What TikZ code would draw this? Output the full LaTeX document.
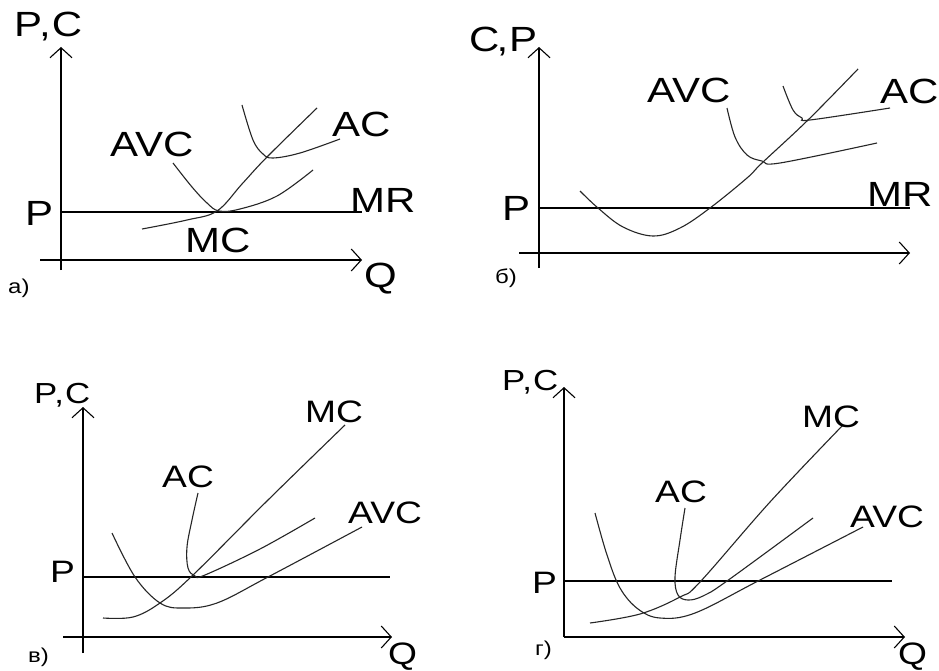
\documentclass[tikz,border=0pt]{standalone}
\usepackage{fontspec}
\newfontfamily\labf[FakeStretch=1.2]{Liberation Sans}
\usetikzlibrary{arrows.meta}
\begin{document}
\begin{tikzpicture}[x=1pt,y=-1pt,
  axis/.style={line width=1.4pt,-{Straight Barb[length=10pt,width=22pt,line width=1.1pt]}},
  hline/.style={line width=1.3pt},
  curve/.style={line width=1.1pt, black!85},
  big/.style={inner sep=0pt, anchor=base west, font=\labf\fontsize{35}{35}\selectfont},
  mid/.style={inner sep=0pt, anchor=base west, font=\labf\fontsize{31}{31}\selectfont},
  topl/.style={inner sep=0pt, anchor=base west, font=\labf\fontsize{29}{29}\selectfont},
  tag/.style={inner sep=0pt, anchor=base west, font=\labf\fontsize{20}{20}\selectfont}]
\useasboundingbox (0,0) rectangle (939,671);
\fill[white] (0,0) rectangle (939,671);

% ---------------- panel a ----------------
\draw[axis] (61,270) -- (61,47);
\draw[axis] (40,260) -- (362,260);
\draw[hline] (61,212) -- (362,212);
\draw[curve] plot[smooth,tension=0.6] coordinates {(142,229) (187,220) (217,211) (242,184) (267,157) (317,108)};
\draw[curve] plot[smooth,tension=0.6] coordinates {(173,163) (192,187) (207,203) (219,211) (240,209) (277,196) (313,170)};
\draw[curve] plot[smooth,tension=0.6] coordinates {(242,105) (253,140) (263,154) (273,158) (300,153) (340,139)};
\node[big] (aPC) at (14,37) {P\kern-3pt,\kern1pt C};
\node[big] (aP) at (25,225) {P};
\node[big] (aAVC) at (110,157) {AVC};
\node[big] (aAC) at (332,137) {AC};
\node[big] (aMR) at (350,212) {MR};
\node[big] (aMC) at (185,252) {MC};
\node[big] (aQ) at (364,287) {Q};
\node[tag] (aT) at (8,293) {а)};

% ---------------- panel b ----------------
\draw[axis] (539,268) -- (539,47);
\draw[axis] (519,253) -- (910,253);
\draw[hline] (539,208) -- (910,208);
\draw[curve] plot[smooth,tension=0.6] coordinates {(580,191) (598,208) (623,227) (653,236) (680,228) (710,208) (747,178) (762,163) (808,120) (858,69)};
\draw[curve] plot[smooth,tension=0.6] coordinates {(727,108) (735,137) (747,155) (762,161) (780,163) (877,143)};
\draw[curve] plot[smooth,tension=0.6] coordinates {(783,86) (793,110) (802,118) (810,120) (890,108)};
\node[big] (bCP) at (469,52) {C\kern-3pt,\kern1pt P};
\node[big] (bP) at (502,220) {P};
\node[big] (bAVC) at (647,103) {AVC};
\node[big] (bAC) at (880,104) {AC};
\node[big] (bMR) at (867,206) {MR};
\node[tag] (bT) at (495,283) {б)};

% ---------------- panel v ----------------
\draw[axis] (83,653) -- (83,407);
\draw[axis] (63,637) -- (392,637);
\draw[hline] (83,577) -- (390,577);
\draw[curve] plot[smooth,tension=0.6] coordinates {(103,618) (133,617) (160,603) (192,576) (268,500) (345,425)};
\draw[curve] plot[smooth,tension=0.6] coordinates {(198,493) (192,520) (187,547) (188,568) (195,576) (205,575) (260,549) (315,518)};
\draw[curve] plot[smooth,tension=0.6] coordinates {(112,533) (135,577) (160,603) (183,608) (217,603) (268,577) (362,527)};
\node[topl] (vPC) at (34,403) {P\kern-3pt,\kern1pt C};
\node[mid] (vP) at (50,582) {P};
\node[mid] (vMC) at (305,422) {MC};
\node[mid] (vAC) at (162,487) {AC};
\node[mid] (vAVC) at (348,523) {AVC};
\node[mid] (vQ) at (388,664) {Q};
\node[tag] (vT) at (28,662) {в)};

% ---------------- panel g ----------------
\draw[axis] (564,637) -- (564,387);
\draw[axis] (564,637) -- (905,637);
\draw[hline] (564,581) -- (892,581);
\draw[curve] plot[smooth,tension=0.6] coordinates {(590,623) (640,614) (680,597) (700,582) (770,502) (843,425)};
\draw[curve] plot[smooth,tension=0.6] coordinates {(685,508) (680,540) (675,577) (678,595) (688,600) (703,596) (727,581) (813,518)};
\draw[curve] plot[smooth,tension=0.6] coordinates {(595,513) (607,555) (620,588) (638,609) (660,618) (695,613) (760,580) (863,527)};
\node[topl] (gPC) at (502,390) {P\kern-3pt,\kern1pt C};
\node[mid] (gP) at (532,593) {P};
\node[mid] (gMC) at (802,427) {MC};
\node[mid] (gAC) at (655,502) {AC};
\node[mid] (gAVC) at (850,527) {AVC};
\node[mid] (gQ) at (898,664) {Q};
\node[tag] (gT) at (535,655) {г)};
\end{tikzpicture}
\end{document}
